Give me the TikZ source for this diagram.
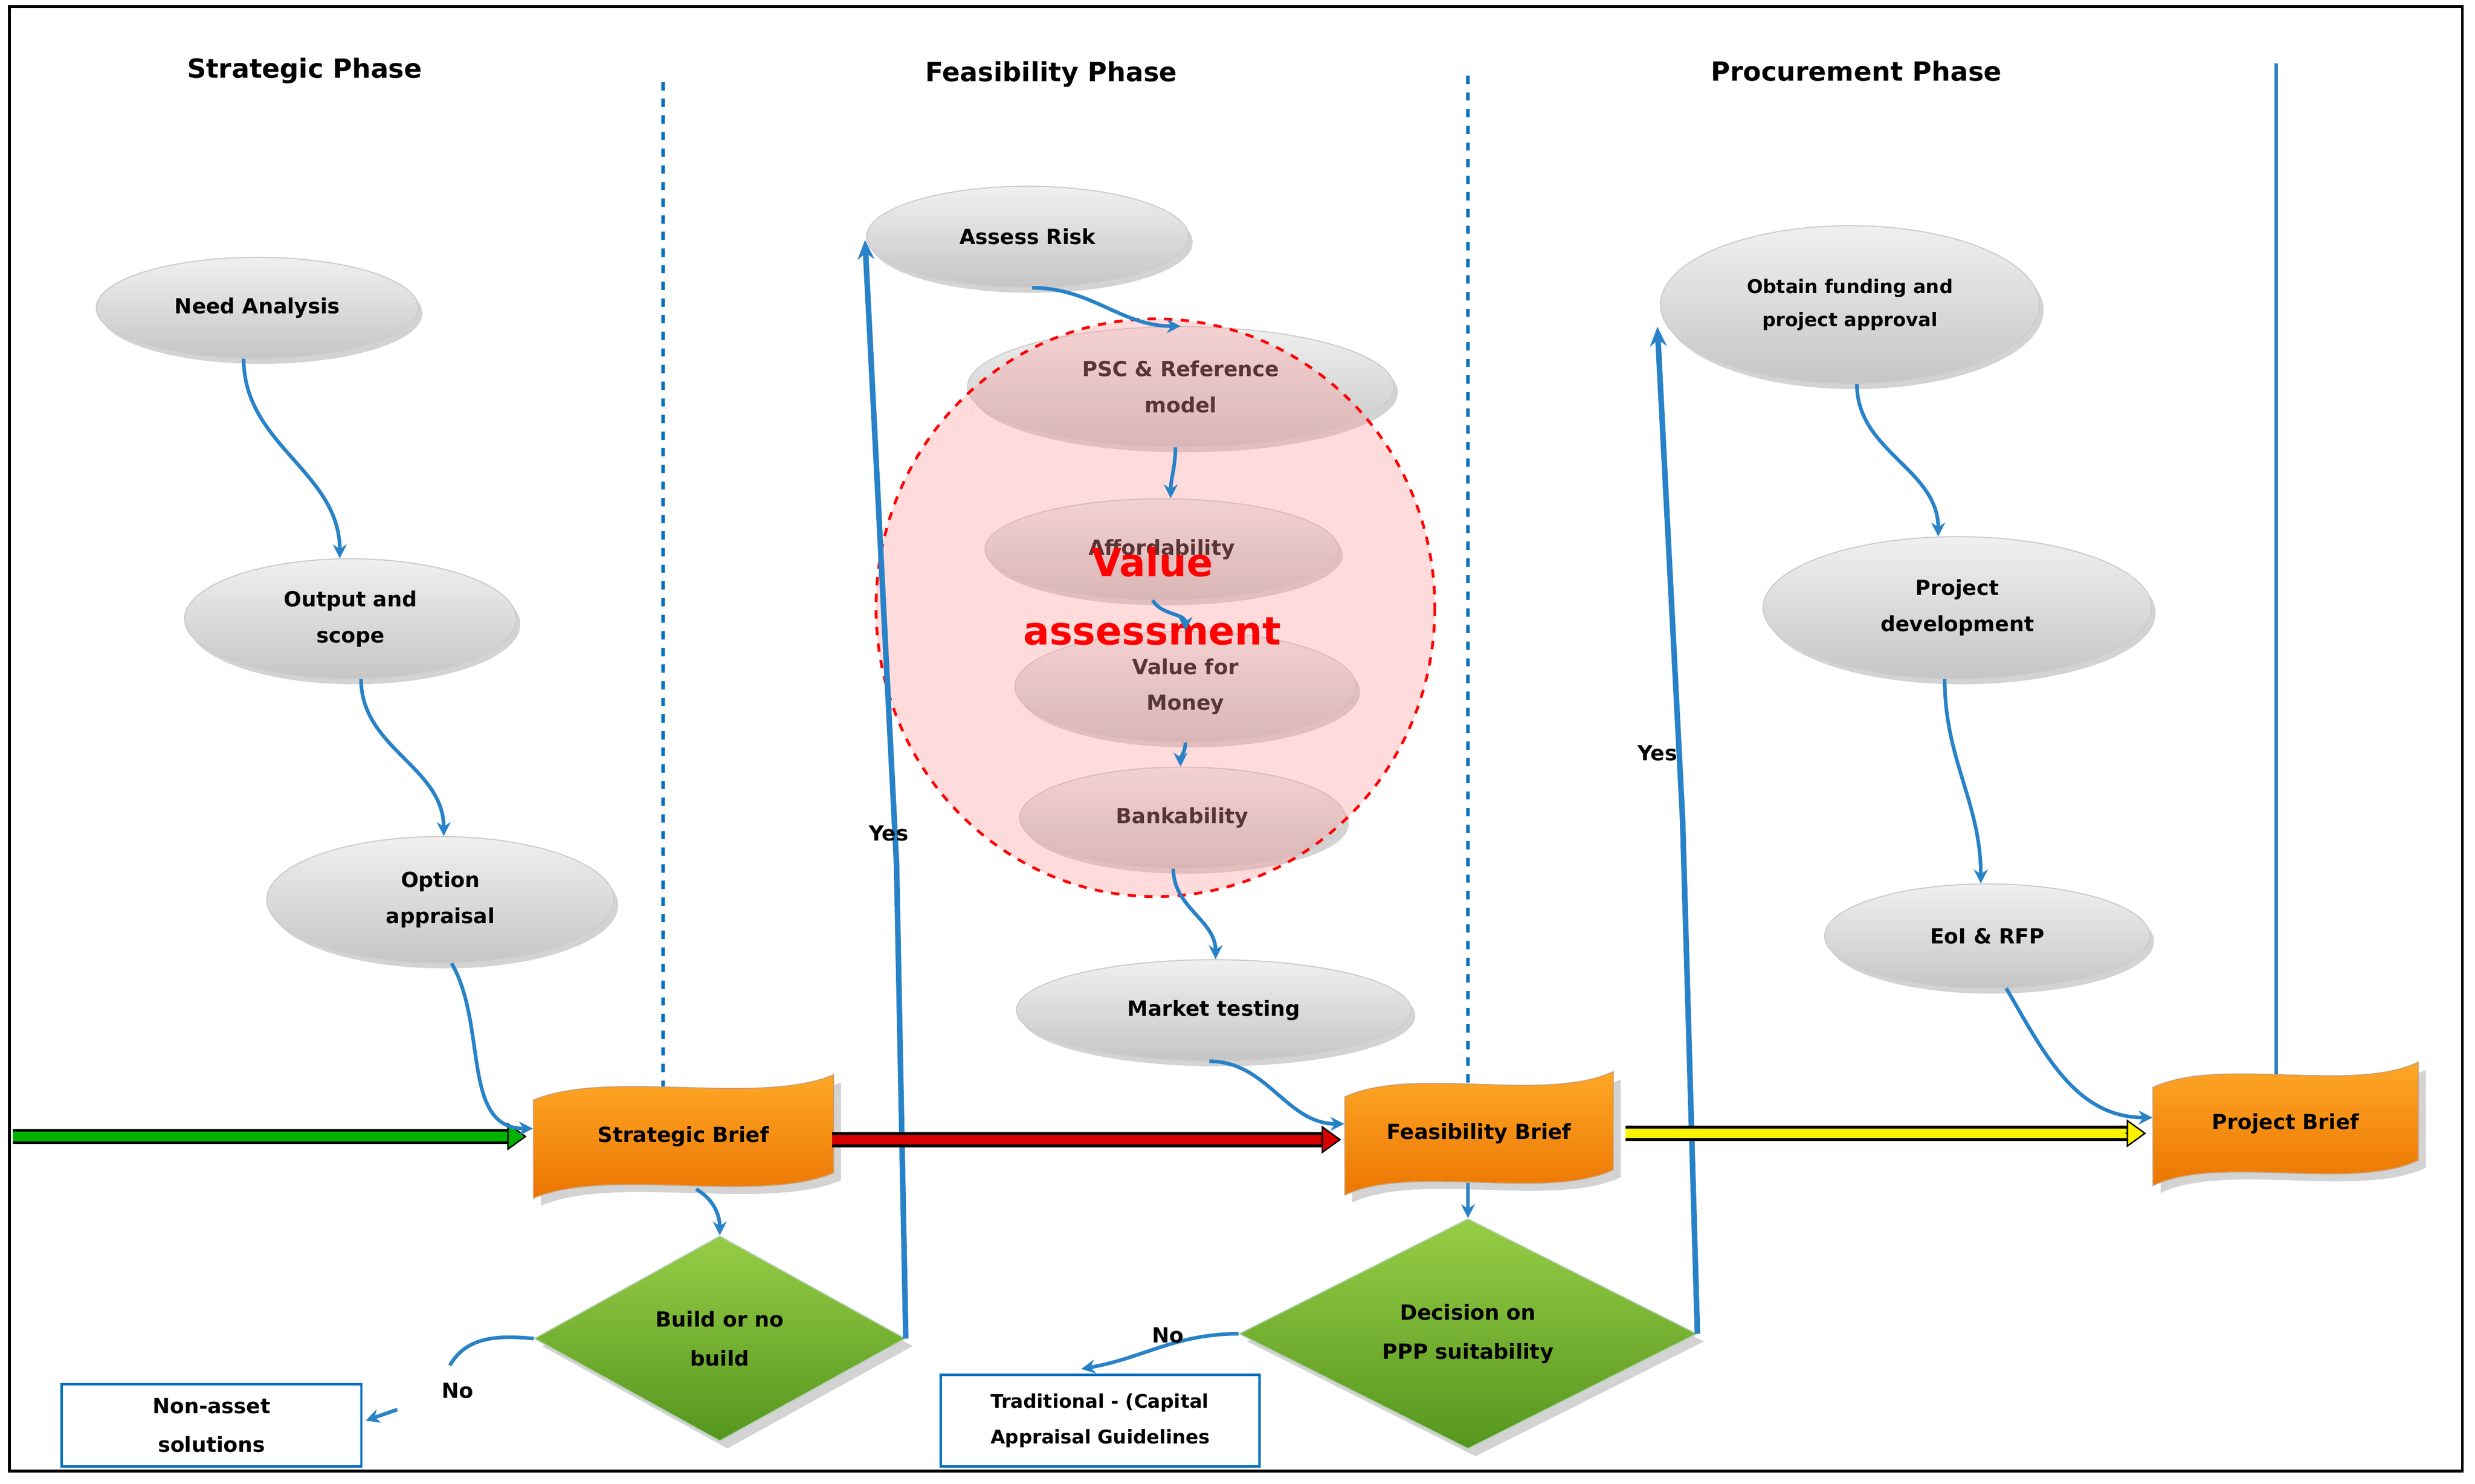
\documentclass[tikz,border=0pt]{standalone}
\usepackage{fontspec}
\setmainfont{DejaVu Sans}
\usetikzlibrary{shapes.geometric,arrows.meta,shadows,calc}
\newcommand\px{0.02cm}
\definecolor{bl}{RGB}{0,112,192}
\definecolor{lblue}{RGB}{40,130,200}
\tikzset{
 x=0.02cm,y=-0.02cm,
 hdr/.style={font=\fontsize{9.5}{12}\selectfont\bfseries},
 ell/.style={ellipse,draw=gray!40,top color=gray!12,bottom color=gray!45,drop shadow={opacity=0.35,shadow xshift=1.5pt,shadow yshift=-2pt},font=\fontsize{7.5}{13}\selectfont\bfseries,align=center,inner sep=0pt},
 con/.style={draw=lblue,line width=1.3pt,-{Stealth[length=5pt,width=5pt]}},
 thick blue/.style={draw=lblue,line width=2pt},
 dia/.style={diamond,draw=green!40!black!30,top color={rgb,255:red,150;green,205;blue,70},bottom color={rgb,255:red,85;green,150;blue,30},drop shadow={opacity=0.35},inner sep=0pt,font=\fontsize{7.5}{14}\selectfont\bfseries,align=center},
 box/.style={draw=bl,line width=0.8pt,fill=white,font=\fontsize{7.5}{14}\selectfont\bfseries,align=center,inner sep=0pt},
 lbl/.style={font=\fontsize{7.5}{10}\selectfont\bfseries},
}
\newcommand\banner[6]{%
 \begin{scope}[shift={(#2,#3)}]
 \path[top color={rgb,255:red,255;green,170;blue,40},bottom color={rgb,255:red,235;green,115;blue,0},draw=orange!70!black!60,drop shadow={opacity=0.35}]
  (-#4/2,-#5/2+8) .. controls (-#4/4,-#5/2-12) and (#4/4,-#5/2+12) .. (#4/2,-#5/2-8)
  -- (#4/2,#5/2-8) .. controls (#4/4,#5/2+12) and (-#4/4,#5/2-12) .. (-#4/2,#5/2+8) -- cycle;
 \end{scope}
 \node[font=\fontsize{7.5}{10}\selectfont\bfseries,minimum width=#4*\px,minimum height=#5*\px,inner sep=0pt] (#1) at (#2,#3) {#6};}
\begin{document}
\begin{tikzpicture}
\useasboundingbox (0,0) rectangle (1568,940);
\draw[line width=1pt] (6,4) rectangle (1560,932);
\node[hdr] at (193,45) {Strategic Phase};
\node[hdr] at (666,47) {Feasibility Phase};
\node[hdr] at (1176,45) {Procurement Phase};
\draw[bl,line width=1.3pt,dashed] (420,52) -- (420,700);
\draw[bl,line width=1.3pt,dashed] (930,48) -- (930,700);
\draw[lblue,line width=1.3pt] (1442,40) -- (1442,685);

\node[ell,minimum width=204*\px,minimum height=64*\px] (need) at (163,195) {Need Analysis};
\node[ell,minimum width=210*\px,minimum height=76*\px] (out) at (222,392) {Output and\\scope};
\node[ell,minimum width=220*\px,minimum height=80*\px] (opt) at (279,570) {Option\\appraisal};
\node[ell,minimum width=204*\px,minimum height=64*\px] (risk) at (651,150) {Assess Risk};
\node[ell,minimum width=270*\px,minimum height=76*\px] (psc) at (748,245) {PSC \& Reference\\model};
\node[ell,minimum width=224*\px,minimum height=64*\px] (aff) at (736,348) {Affordability};
\node[ell,minimum width=216*\px,minimum height=70*\px] (vfm) at (751,435) {Value for\\Money};
\node[ell,minimum width=206*\px,minimum height=64*\px] (bank) at (749,518) {Bankability};
\node[ell,minimum width=250*\px,minimum height=64*\px] (mkt) at (769,640) {Market testing};
\node[ell,minimum width=240*\px,minimum height=100*\px,font=\fontsize{6.8}{12}\selectfont\bfseries] (fund) at (1172,193) {Obtain funding and\\project approval};
\node[ell,minimum width=246*\px,minimum height=90*\px] (dev) at (1240,385) {Project\\development};
\node[ell,minimum width=206*\px,minimum height=66*\px] (eoi) at (1259,593) {EoI \& RFP};

\fill[red!40,fill opacity=0.35] (732,385) ellipse [x radius=177,y radius=183];
\draw[red,line width=1pt,dashed] (732,385) ellipse [x radius=177,y radius=183];
\node[red,font=\fontsize{14}{16}\selectfont\bfseries] at (730,356) {Value};
\node[red,font=\fontsize{14}{16}\selectfont\bfseries] at (730,400) {assessment};

\banner{sb}{433}{720}{190}{62}{Strategic Brief}
\banner{fb}{937}{718}{170}{62}{Feasibility Brief}
\banner{pb}{1448}{712}{168}{62}{Project Brief}

\node[dia,minimum width=235*\px,minimum height=130*\px] (build) at (456,848) {Build or no\\build};
\node[dia,minimum width=290*\px,minimum height=122*\px] (dec) at (930,845) {Decision on\\PPP suitability};
\node[box,minimum width=190*\px,minimum height=52*\px] (non) at (134,903) {Non-asset\\solutions};
\node[box,minimum width=202*\px,minimum height=58*\px,align=left,font=\fontsize{6.8}{13}\selectfont\bfseries] (trad) at (697,900) {Traditional - (Capital\\Appraisal Guidelines};

% yes lines (under the big arrows)
\coordinate (y1) at (568,548); \coordinate (y1e) at (548,152);
\draw[thick blue] (build.east) -- (y1);
\draw[thick blue,-{Stealth[length=7pt,width=6pt]}] (y1) -- (y1e);
\node[lbl] at (563,528) {Yes};
\coordinate (y2) at (1066,520); \coordinate (y2e) at (1050,207);
\draw[thick blue] (dec.east) -- (y2);
\draw[thick blue,-{Stealth[length=7pt,width=6pt]}] (y2) -- (y2e);
\node[lbl] at (1050,477) {Yes};

% big arrows
\coordinate (gs) at (8,720); \coordinate (rs) at (527,722); \coordinate (ys) at (1030,718);
\draw[black,line width=5.5pt] (gs) -- ($(sb.west)+(-14,0)$);
\draw[green!70!black,line width=3.5pt] (gs) -- ($(sb.west)+(-14,0)$);
\draw[-{Triangle[length=7pt,width=10pt,fill=green!70!black]},line width=0.5pt,draw=black] ($(sb.west)+(-15,0)$) -- ($(sb.west)+(-4,0)$);
\draw[black,line width=5.5pt] (rs) -- ($(fb.west)+(-14,4)$);
\draw[red!85!black,line width=3.5pt] (rs) -- ($(fb.west)+(-14,4)$);
\draw[-{Triangle[length=7pt,width=10pt,fill=red!85!black]},line width=0.5pt,draw=black] ($(fb.west)+(-15,4)$) -- ($(fb.west)+(-2,4)$);
\draw[black,line width=5.5pt] (ys) -- ($(pb.west)+(-16,6)$);
\draw[yellow,line width=3.5pt] (ys) -- ($(pb.west)+(-16,6)$);
\draw[-{Triangle[length=7pt,width=10pt,fill=yellow]},line width=0.5pt,draw=black] ($(pb.west)+(-17,6)$) -- ($(pb.west)+(-4,6)$);

% connectors
\draw[con] (need.255) to[out=-90,in=90] (out.100);
\draw[con] (out.-80) to[out=-90,in=90] (opt.87);
\draw[con] (opt.-80) to[out=-60,in=180] ($(sb.west)+(0,-5)$);
\draw[con] ($(sb.south)+(8,2)$) to[out=-30,in=90] (build.north);
\draw[con] (risk.-85) to[out=0,in=180] (psc.north);
\draw[con] (psc.-95) to[out=-90,in=90] (aff.80);
\draw[con] (aff.-100) to[out=-60,in=90] (vfm.90);
\draw[con] (vfm.-90) to[out=-90,in=90] (bank.92);
\draw[con] (bank.-100) to[out=-90,in=90] (mkt.88);
\draw[con] (mkt.-95) to[out=0,in=180] ($(fb.west)+(0,-6)$);
\draw[con] (fb.south -| dec.north) -- (dec.north);
\draw[con] (fund.-85) to[out=-90,in=90] (dev.105);
\draw[con] (dev.-100) to[out=-90,in=90] (eoi.97);
\draw[con] (eoi.-70) to[out=-60,in=180] ($(pb.west)+(0,-4)$);

\coordinate (n1) at (285,865);
\draw[lblue,line width=1.3pt] (build.west) to[out=175,in=60] (n1);
\draw[con] ($(non.east)+(22,-10)$) -- ($(non.east)+(2,-3)$);
\node[lbl] at (290,881) {No};
\draw[con] (dec.west) to[out=180,in=10] ($(trad.north)+(-12,-3)$);
\node[lbl] at (740,846) {No};
\end{tikzpicture}
\end{document}
